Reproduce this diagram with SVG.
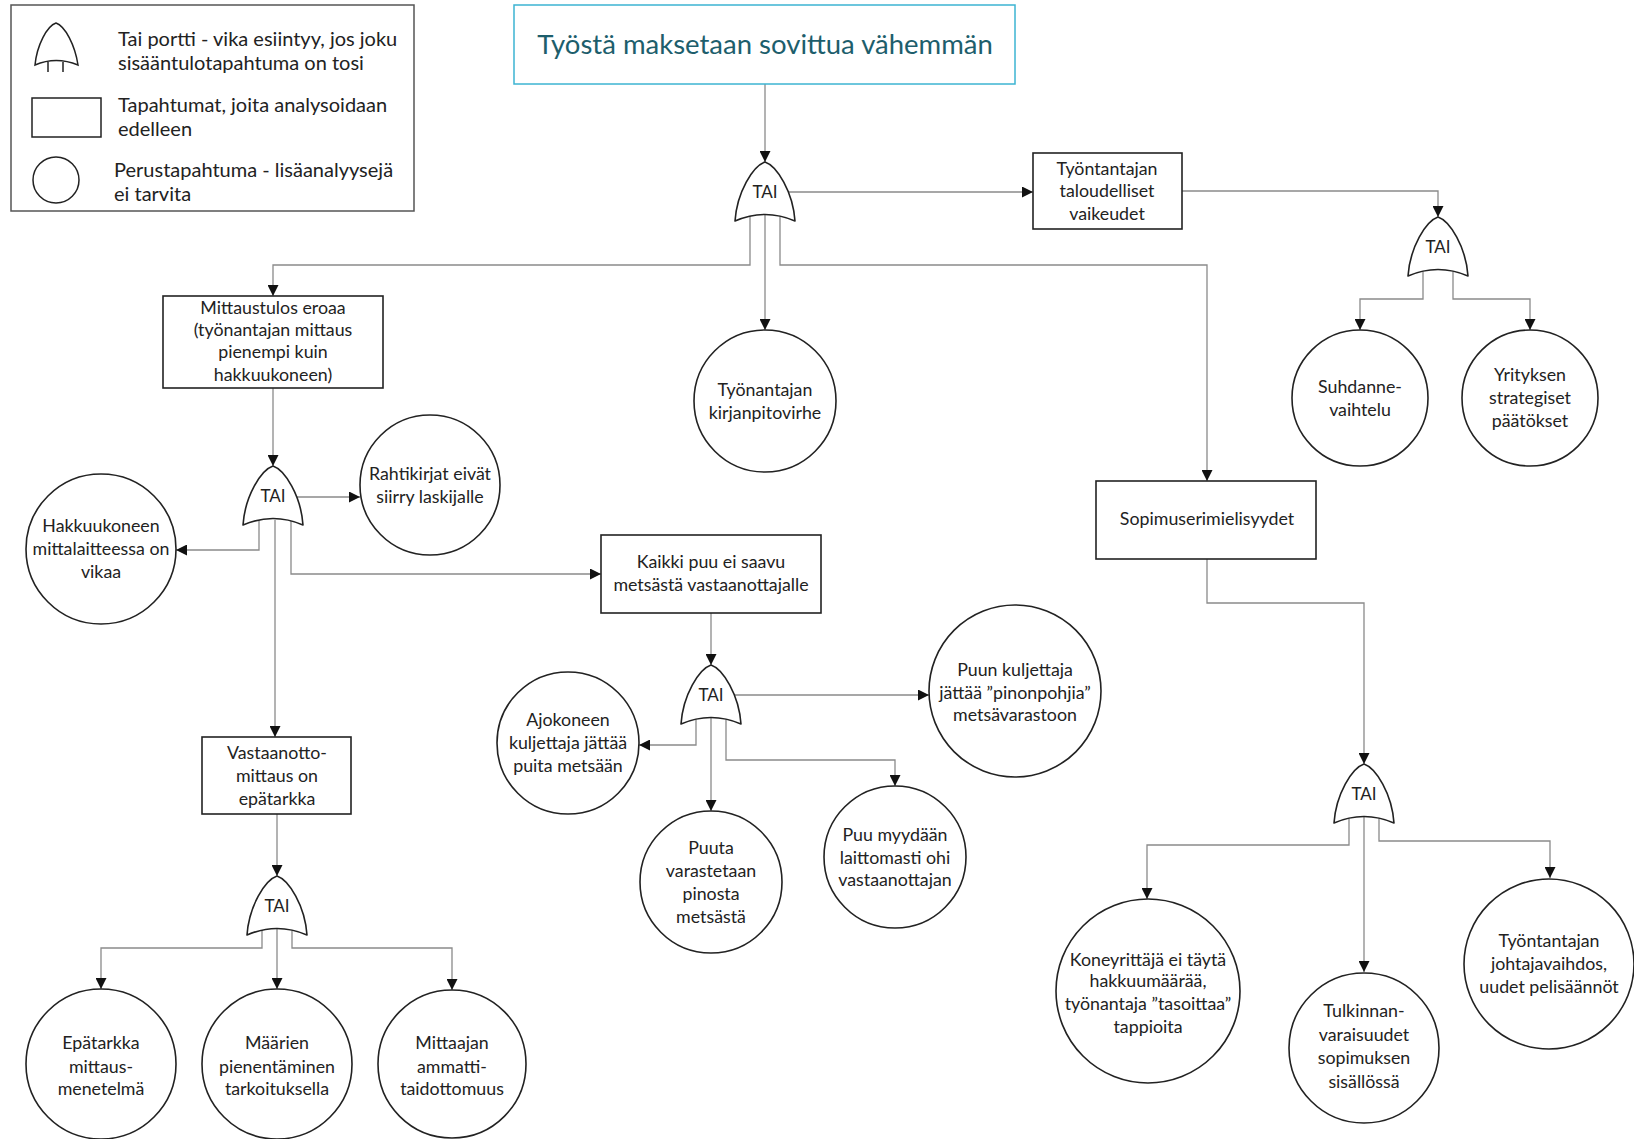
<svg xmlns="http://www.w3.org/2000/svg" width="1634" height="1139" viewBox="0 0 1634 1139">
<defs>
<style>
.n{fill:#fff;stroke:#222;stroke-width:1.6}
.g{fill:#fff;stroke:#222;stroke-width:1.6;stroke-linejoin:round}
.t{font-family:Lato,"Liberation Sans",sans-serif;font-size:17.8px;fill:#222;text-anchor:middle}
.gt{font-family:Lato,"Liberation Sans",sans-serif;font-size:17px;fill:#222;text-anchor:middle}
.lg{font-family:Lato,"Liberation Sans",sans-serif;font-size:20px;fill:#222}
.c{fill:none;stroke:#8a8a8a;stroke-width:1.3}
</style>
<marker id="ar" markerWidth="11" markerHeight="11" refX="11" refY="5.5" orient="auto" markerUnits="userSpaceOnUse">
<path d="M0,0 L11,5.5 L0,11 z" fill="#111"/>
</marker>
<path id="gate" d="M-30,59 C-28,30 -12,4 0,0 C12,4 28,30 30,59 Q0,46 -30,59 Z"/>
</defs>
<rect width="1634" height="1139" fill="#fff"/>

<g id="legend">
<rect x="11" y="5" width="403" height="206" fill="#fff" stroke="#555" stroke-width="1.5"/>
<path d="M35,65 C37,45 47,26 56,23 C65,26 75,45 78,65 Q56,56 35,65 Z" fill="none" stroke="#222" stroke-width="1.5"/>
<path d="M48,62 V72 M63,62 V72" stroke="#222" stroke-width="1.5"/>
<text class="lg" x="118" y="46">Tai portti - vika esiintyy, jos joku</text>
<text class="lg" x="118" y="70">sisääntulotapahtuma on tosi</text>
<rect x="32" y="98" width="69" height="39" fill="none" stroke="#222" stroke-width="1.5"/>
<text class="lg" x="118" y="112">Tapahtumat, joita analysoidaan</text>
<text class="lg" x="118" y="136">edelleen</text>
<circle cx="56" cy="180" r="23" fill="none" stroke="#222" stroke-width="1.5"/>
<text class="lg" x="114" y="177">Perustapahtuma - lisäanalyysejä</text>
<text class="lg" x="114" y="201">ei tarvita</text>
</g>

<g id="connectors">
<path class="c" d="M765,84 V162" marker-end="url(#ar)"/>
<path class="c" d="M789,192 H1033" marker-end="url(#ar)"/>
<path class="c" d="M750,215 V265 H273 V296" marker-end="url(#ar)"/>
<path class="c" d="M765,215 V330" marker-end="url(#ar)"/>
<path class="c" d="M780,215 V265 H1207 V481" marker-end="url(#ar)"/>
<path class="c" d="M1182,191 H1438 V217" marker-end="url(#ar)"/>
<path class="c" d="M1423,270 V299 H1360 V330" marker-end="url(#ar)"/>
<path class="c" d="M1453,270 V299 H1530 V330" marker-end="url(#ar)"/>
<path class="c" d="M273,388 V466" marker-end="url(#ar)"/>
<path class="c" d="M297,497 H360" marker-end="url(#ar)"/>
<path class="c" d="M259,520 V550 H176" marker-end="url(#ar)"/>
<path class="c" d="M275,520 V737" marker-end="url(#ar)"/>
<path class="c" d="M291,520 V574 H601" marker-end="url(#ar)"/>
<path class="c" d="M711,613 V665" marker-end="url(#ar)"/>
<path class="c" d="M735,695 H929" marker-end="url(#ar)"/>
<path class="c" d="M696,718 V745 H639" marker-end="url(#ar)"/>
<path class="c" d="M711,718 V811" marker-end="url(#ar)"/>
<path class="c" d="M726,718 V760 H895 V786" marker-end="url(#ar)"/>
<path class="c" d="M277,814 V876" marker-end="url(#ar)"/>
<path class="c" d="M262,928 V948 H101 V989" marker-end="url(#ar)"/>
<path class="c" d="M277,928 V989" marker-end="url(#ar)"/>
<path class="c" d="M292,928 V948 H452 V990" marker-end="url(#ar)"/>
<path class="c" d="M1207,559 V603 H1364 V764" marker-end="url(#ar)"/>
<path class="c" d="M1349,817 V845 H1147 V899" marker-end="url(#ar)"/>
<path class="c" d="M1364,817 V972" marker-end="url(#ar)"/>
<path class="c" d="M1379,817 V841 H1550 V878" marker-end="url(#ar)"/>
</g>

<g id="top-event">
<rect x="514" y="5" width="501" height="79" fill="#fff" stroke="#3cb4d2" stroke-width="1.5"/>
<text x="765" y="54" font-family="Lato,'Liberation Sans',sans-serif" font-size="27.5" fill="#1d5e6c" text-anchor="middle">Työstä maksetaan sovittua vähemmän</text>
</g>

<g id="gate1"><use href="#gate" x="765" y="162" class="g"/><text class="gt" x="765" y="198">TAI</text></g>
<g id="gate2"><use href="#gate" x="1438" y="217" class="g"/><text class="gt" x="1438" y="253">TAI</text></g>
<g id="gate3"><use href="#gate" x="273" y="466" class="g"/><text class="gt" x="273" y="502">TAI</text></g>
<g id="gate4"><use href="#gate" x="711" y="665" class="g"/><text class="gt" x="711" y="701">TAI</text></g>
<g id="gate5"><use href="#gate" x="277" y="876" class="g"/><text class="gt" x="277" y="912">TAI</text></g>
<g id="gate6"><use href="#gate" x="1364" y="764" class="g"/><text class="gt" x="1364" y="800">TAI</text></g>

<g id="employer-finance">
<rect class="n" x="1033" y="153" width="149" height="76"/>
<text class="t" x="1107" y="175">Työntantajan</text>
<text class="t" x="1107" y="197">taloudelliset</text>
<text class="t" x="1107" y="220">vaikeudet</text>
</g>
<g id="cycle">
<circle class="n" cx="1360" cy="398" r="68"/>
<text class="t" x="1360" y="393">Suhdanne-</text>
<text class="t" x="1360" y="416">vaihtelu</text>
</g>
<g id="strategy">
<circle class="n" cx="1530" cy="398" r="68"/>
<text class="t" x="1530" y="381">Yrityksen</text>
<text class="t" x="1530" y="404">strategiset</text>
<text class="t" x="1530" y="427">päätökset</text>
</g>
<g id="bookkeeping">
<circle class="n" cx="765" cy="401" r="71"/>
<text class="t" x="765" y="396">Työnantajan</text>
<text class="t" x="765" y="419">kirjanpitovirhe</text>
</g>
<g id="measurement-diff">
<rect class="n" x="163" y="296" width="220" height="92"/>
<text class="t" x="273" y="314">Mittaustulos eroaa</text>
<text class="t" x="273" y="336">(työnantajan mittaus</text>
<text class="t" x="273" y="358">pienempi kuin</text>
<text class="t" x="273" y="381">hakkuukoneen)</text>
</g>
<g id="waybills">
<circle class="n" cx="430" cy="485" r="70"/>
<text class="t" x="430" y="480">Rahtikirjat eivät</text>
<text class="t" x="430" y="503">siirry laskijalle</text>
</g>
<g id="harvester">
<circle class="n" cx="101" cy="549" r="75"/>
<text class="t" x="101" y="532">Hakkuukoneen</text>
<text class="t" x="101" y="555">mittalaitteessa on</text>
<text class="t" x="101" y="578">vikaa</text>
</g>
<g id="wood-missing">
<rect class="n" x="601" y="535" width="220" height="78"/>
<text class="t" x="711" y="568">Kaikki puu ei saavu</text>
<text class="t" x="711" y="591">metsästä vastaanottajalle</text>
</g>
<g id="forwarder">
<circle class="n" cx="568" cy="743" r="71"/>
<text class="t" x="568" y="726">Ajokoneen</text>
<text class="t" x="568" y="749">kuljettaja jättää</text>
<text class="t" x="568" y="772">puita metsään</text>
</g>
<g id="transporter">
<circle class="n" cx="1015" cy="691" r="86"/>
<text class="t" x="1015" y="676">Puun kuljettaja</text>
<text class="t" x="1015" y="699">jättää ”pinonpohjia”</text>
<text class="t" x="1015" y="721">metsävarastoon</text>
</g>
<g id="theft">
<circle class="n" cx="711" cy="882" r="71"/>
<text class="t" x="711" y="854">Puuta</text>
<text class="t" x="711" y="877">varastetaan</text>
<text class="t" x="711" y="900">pinosta</text>
<text class="t" x="711" y="923">metsästä</text>
</g>
<g id="illegal-sale">
<circle class="n" cx="895" cy="857" r="71"/>
<text class="t" x="895" y="841">Puu myydään</text>
<text class="t" x="895" y="864">laittomasti ohi</text>
<text class="t" x="895" y="886">vastaanottajan</text>
</g>
<g id="reception">
<rect class="n" x="202" y="737" width="149" height="77"/>
<text class="t" x="277" y="759">Vastaanotto-</text>
<text class="t" x="277" y="782">mittaus on</text>
<text class="t" x="277" y="805">epätarkka</text>
</g>
<g id="method">
<circle class="n" cx="101" cy="1064" r="75"/>
<text class="t" x="101" y="1049">Epätarkka</text>
<text class="t" x="101" y="1073">mittaus-</text>
<text class="t" x="101" y="1095">menetelmä</text>
</g>
<g id="intentional">
<circle class="n" cx="277" cy="1064" r="75"/>
<text class="t" x="277" y="1049">Määrien</text>
<text class="t" x="277" y="1073">pienentäminen</text>
<text class="t" x="277" y="1095">tarkoituksella</text>
</g>
<g id="incompetence">
<circle class="n" cx="452" cy="1064" r="74"/>
<text class="t" x="452" y="1049">Mittaajan</text>
<text class="t" x="452" y="1073">ammatti-</text>
<text class="t" x="452" y="1095">taidottomuus</text>
</g>
<g id="contract">
<rect class="n" x="1096" y="481" width="220" height="78"/>
<text class="t" x="1207" y="525">Sopimuserimielisyydet</text>
</g>
<g id="contractor">
<circle class="n" cx="1148" cy="991" r="92"/>
<text class="t" x="1148" y="966">Koneyrittäjä ei täytä</text>
<text class="t" x="1148" y="987">hakkuumäärää,</text>
<text class="t" x="1148" y="1010">työnantaja ”tasoittaa”</text>
<text class="t" x="1148" y="1033">tappioita</text>
</g>
<g id="interpretation">
<circle class="n" cx="1364" cy="1048" r="75"/>
<text class="t" x="1364" y="1017">Tulkinnan-</text>
<text class="t" x="1364" y="1041">varaisuudet</text>
<text class="t" x="1364" y="1064">sopimuksen</text>
<text class="t" x="1364" y="1088">sisällössä</text>
</g>
<g id="manager-change">
<circle class="n" cx="1549" cy="964" r="85"/>
<text class="t" x="1549" y="947">Työntantajan</text>
<text class="t" x="1549" y="970">johtajavaihdos,</text>
<text class="t" x="1549" y="993">uudet pelisäännöt</text>
</g>
</svg>
